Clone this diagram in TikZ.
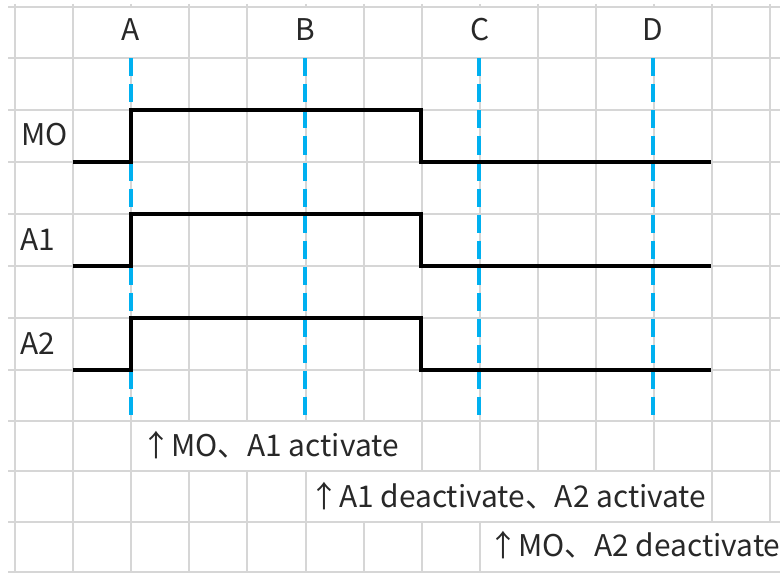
\documentclass[tikz,border=0pt]{standalone}
\usepackage{fontspec}
\setmainfont{Noto Sans CJK JP}
\definecolor{gridc}{RGB}{214,214,214}
\definecolor{cyanline}{RGB}{0,176,240}
\definecolor{txt}{RGB}{40,40,40}
\begin{document}
\begin{tikzpicture}[x=1bp,y=-1bp,
  gridline/.style={draw=gridc,line width=2bp},
  marker/.style={draw=cyanline,line width=3.4bp,dash pattern=on 18bp off 8bp},
  wave/.style={draw=black,line width=3.2bp,line join=miter},
  lbl/.style={font=\fontsize{30}{32}\selectfont,text=txt,inner sep=0pt},
]
\useasboundingbox (0,0) rectangle (780,573);
\begin{scope}
\clip (0,0) rectangle (780,573);
% horizontal grid lines
\foreach \y in {7,58.5,110,162,214,266,318,370,421,471,521.5,572}
  \draw[gridline] (8,\y) -- (780,\y);
% vertical grid lines (with gaps where text overflows / merged cells)
\foreach \k in {0,...,13}{
  \pgfmathsetmacro{\xx}{15+58.1*\k}
  \pgfmathtruncatemacro{\topgap}{(\k==2)||(\k==5)||(\k==8)||(\k==11)}
  \pgfmathtruncatemacro{\ga}{(\k>=3)&&(\k<=6)}
  \pgfmathtruncatemacro{\gb}{(\k>=6)&&(\k<=11)}
  \pgfmathtruncatemacro{\gc}{(\k>=9)}
  \ifnum\topgap=1
    \draw[gridline] (\xx,4) -- (\xx,7);
    \draw[gridline] (\xx,58.5) -- (\xx,421);
  \else
    \draw[gridline] (\xx,4) -- (\xx,421);
  \fi
  \ifnum\ga=0 \draw[gridline] (\xx,421) -- (\xx,471); \fi
  \ifnum\gb=0 \draw[gridline] (\xx,471) -- (\xx,521.5); \fi
  \ifnum\gc=0 \draw[gridline] (\xx,521.5) -- (\xx,573); \fi
}
% coordinates
\coordinate (tA) at (131,58.5); \coordinate (bA) at (131,421);
\coordinate (tB) at (305,58.5); \coordinate (bB) at (305,421);
\coordinate (tC) at (479,58.5); \coordinate (bC) at (479,421);
\coordinate (tD) at (653,58.5); \coordinate (bD) at (653,421);
% dashed markers
\draw[marker] (tA) -- (bA);
\draw[marker] (tB) -- (bB);
\draw[marker] (tC) -- (bC);
\draw[marker] (tD) -- (bD);
% waveforms
\draw[wave] (73,162) -- (131,162) -- (131,110) -- (421,110) -- (421,162) -- (711,162);
\draw[wave] (73,266) -- (131,266) -- (131,214) -- (421,214) -- (421,266) -- (711,266);
\draw[wave] (73,370) -- (131,370) -- (131,318) -- (421,318) -- (421,370) -- (711,370);
% top labels
\node[lbl,anchor=base] (lA) at (131,41) {A};
\node[lbl,anchor=base] (lB) at (305,41) {B};
\node[lbl,anchor=base] (lC) at (480,41) {C};
\node[lbl,anchor=base] (lD) at (653,41) {D};
% row labels
\node[lbl,anchor=base west] (lMO) at (21,146) {MO};
\node[lbl,anchor=base west] (lA1) at (20,250) {A1};
\node[lbl,anchor=base west] (lA2) at (20,354) {A2};
% notes
\node[lbl,anchor=base west] (n1) at (141,456) {↑MO、A1 activate};
\node[lbl,anchor=base west] (n2) at (309,507) {↑A1 deactivate、A2 activate};
\node[lbl,anchor=base west] (n3) at (488,556) {↑MO、A2 deactivate};
\end{scope}
\end{tikzpicture}
\end{document}
